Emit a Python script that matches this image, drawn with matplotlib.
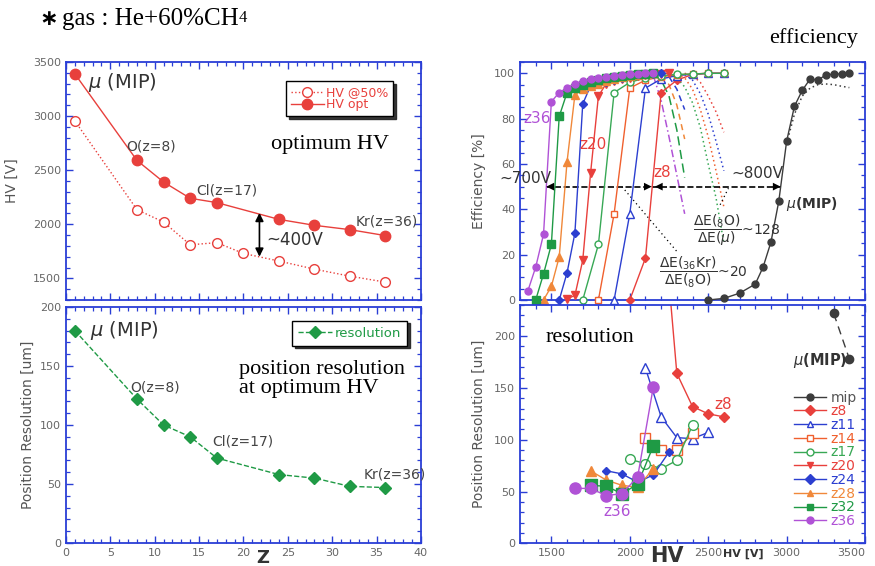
import matplotlib.pyplot as plt
from matplotlib.lines import Line2D
from matplotlib.ticker import MultipleLocator

# ---- left: optimum HV / resolution vs Z
z_opt = [1, 8, 11, 14, 17, 24, 28, 32, 36]
hv_opt = [3390, 2590, 2390, 2240, 2200, 2045, 1990, 1950, 1895]
z_half = [1, 8, 11, 14, 17, 20, 24, 28, 32, 36]
hv_half = [2955, 2135, 2020, 1810, 1830, 1730, 1660, 1585, 1520, 1465]
res_opt = [180, 122, 100, 90, 72, 58, 55, 48, 47]

# ---- right top: efficiency vs HV
hv_mip = [2500, 2600, 2700, 2800, 2850, 2900, 2950, 3000, 3050, 3100, 3150, 3200, 3250, 3300, 3350, 3400]
eff_mip = [0, 0.7, 3, 7, 14.5, 25.5, 43.5, 70, 85.5, 92.5, 97.5, 97, 99.3, 99.6, 99.8, 100]
hv_z8 = [2000, 2100, 2200, 2300, 2400, 2500, 2600]
eff_z8 = [0, 18.5, 91.5, 97, 99.5, 100, 100]
hv_z11 = [1900, 2000, 2100, 2200, 2300, 2400, 2500, 2600]
eff_z11 = [0, 38, 93.5, 97.5, 99, 99.6, 100, 100]
hv_z14 = [1800, 1900, 2000, 2100, 2200, 2300, 2400, 2500, 2600]
eff_z14 = [0, 38, 93.5, 97, 98.5, 99.3, 99.7, 100, 100]
hv_z17 = [1700, 1800, 1900, 2000, 2100, 2200, 2300, 2400, 2500, 2600]
eff_z17 = [0, 24.5, 91.5, 96, 98, 99, 99.5, 99.7, 100, 100]
hv_z20 = [1600, 1650, 1700, 1750, 1800, 1850, 1900, 1950, 2000, 2050, 2100, 2150, 2200, 2250]
eff_z20 = [0.5, 2, 17.5, 56, 90, 95.5, 96.5, 97.3, 98, 98.7, 99.2, 99.5, 99.8, 100]
hv_z24 = [1550, 1600, 1650, 1700, 1750, 1800, 1850, 1900, 1950, 2000, 2050, 2100, 2150, 2200]
eff_z24 = [0, 12, 29.5, 86.5, 94.5, 95.2, 96.2, 97.2, 98, 98.6, 99.1, 99.5, 99.8, 100]
hv_z28 = [1450, 1500, 1550, 1600, 1650, 1700, 1750, 1800, 1850, 1900, 1950, 2000, 2050, 2100, 2150]
eff_z28 = [0, 6, 19, 61, 90.5, 93, 94.5, 95.5, 96.5, 97.5, 98.3, 99, 99.4, 99.7, 100]
hv_z32 = [1400, 1450, 1500, 1550, 1600, 1650, 1700, 1750, 1800, 1850, 1900, 1950, 2000, 2050, 2100, 2150]
eff_z32 = [0, 11.5, 24.5, 81, 91.5, 93.5, 95, 96, 97, 97.8, 98.4, 99, 99.3, 99.6, 99.8, 100]
hv_z36 = [1350, 1400, 1450, 1500, 1550, 1600, 1650, 1700, 1750, 1800, 1850, 1900, 1950, 2000, 2050, 2100, 2150]
eff_z36 = [4, 14.5, 29, 87.5, 91.5, 93.5, 95.5, 96.5, 97.3, 98, 98.5, 99, 99.3, 99.6, 99.8, 100, 100]

# efficiency drop curves (second measurement, no markers)
hv_mip_b = [3000, 3050, 3100, 3150, 3200, 3250, 3300, 3350, 3400]
eff_mip_b = [69, 82, 90, 93.5, 95, 95.3, 95, 94.3, 93.7]
hv_z8_b = [2350, 2400, 2450, 2500, 2550, 2600]
eff_z8_b = [100, 99, 96, 90, 83, 74]
hv_z11_b = [2350, 2400, 2450, 2500, 2550, 2600]
eff_z11_b = [99.5, 97, 91, 82, 70, 57]
hv_z14_b = [2300, 2350, 2400, 2450, 2500, 2550, 2600]
eff_z14_b = [99.5, 98, 93, 84, 72, 57, 41]
hv_z17_b = [2250, 2300, 2350, 2400, 2450, 2500, 2550, 2600]
eff_z17_b = [99.5, 98, 94, 87, 76, 60, 45, 25]
hv_z24_b = [2250, 2300, 2350]
eff_z24_b = [98.5, 93, 84]
hv_z28_b = [2200, 2250, 2300, 2350]
eff_z28_b = [99, 95, 86, 71]
hv_z32_b = [2150, 2200, 2250, 2300, 2350]
eff_z32_b = [99.5, 97, 90, 75, 54]
hv_z36_b = [2150, 2200, 2250, 2300, 2350]
eff_z36_b = [99, 88, 72, 55, 38]

# ---- right bottom: resolution vs HV
rhv_mip = [3300, 3400]
res_mip = [222, 178]
rhv_z8 = [2200, 2300, 2400, 2500, 2600]
res_z8 = [340, 164, 132, 125, 122]
rhv_z11 = [2100, 2200, 2300, 2400, 2500]
res_z11 = [169, 122, 102, 101, 107]
rhv_z14 = [2100, 2200, 2300, 2400]
res_z14 = [102, 90, 90, 106]
rhv_z17 = [2000, 2100, 2200, 2300, 2400]
res_z17 = [81, 77, 72, 80, 114]
rhv_z24 = [1850, 1950, 2050, 2150, 2250]
res_z24 = [70, 67, 59, 66, 88]
rhv_z28 = [1750, 1850, 1950, 2050, 2150]
res_z28 = [70, 61, 56, 54, 72]
rhv_z32 = [1750, 1850, 1950, 2050, 2150]
res_z32 = [56, 55, 48, 57, 94]
rhv_z36 = [1650, 1750, 1850, 1950, 2050, 2150]
res_z36 = [53, 53, 46, 48, 64, 151]

RED = '#e8403c'
BLUE = '#2c3fd0'
ORANGE = '#f0602e'
ORANGE2 = '#f0883a'
GREEN = '#38a855'
GREEN2 = '#1f9a45'
PURPLE = '#b052d6'
GRAY = '#3c3c3c'
SPINE = '#2a3ed6'
TXT = '#444444'
SERIF = ['Liberation Serif', 'DejaVu Serif']

styles = {
    'mip': dict(color=GRAY, marker='o', mfc=GRAY),
    'z8': dict(color=RED, marker='D', mfc=RED),
    'z11': dict(color=BLUE, marker='^', mfc='white'),
    'z14': dict(color=ORANGE, marker='s', mfc='white'),
    'z17': dict(color=GREEN, marker='o', mfc='white'),
    'z20': dict(color=RED, marker='v', mfc=RED),
    'z24': dict(color=BLUE, marker='D', mfc=BLUE),
    'z28': dict(color=ORANGE2, marker='^', mfc=ORANGE2),
    'z32': dict(color=GREEN2, marker='s', mfc=GREEN2),
    'z36': dict(color=PURPLE, marker='o', mfc=PURPLE),
}
eff_size = {'mip': 5, 'z8': 4, 'z11': 5.5, 'z14': 4.5, 'z17': 5, 'z20': 6,
            'z24': 4, 'z28': 6, 'z32': 5.5, 'z36': 5}
res_size = {'mip': 6, 'z8': 5, 'z11': 7, 'z14': 6.5, 'z17': 7, 'z20': 6,
            'z24': 4.5, 'z28': 6.5, 'z32': 8, 'z36': 8}


def style_axes(ax):
    for s in ax.spines.values():
        s.set_color(SPINE)
        s.set_linewidth(1.3)
    ax.tick_params(which='both', direction='in', top=True, right=True,
                   color=SPINE, labelcolor='#666666', labelsize=8)
    ax.tick_params(which='major', length=5, width=1)
    ax.tick_params(which='minor', length=3, width=0.9)


fig = plt.figure(figsize=(8.75, 5.66), dpi=100)
ax1 = fig.add_axes([0.0754, 0.470, 0.4057, 0.4205])
ax2 = fig.add_axes([0.0754, 0.0406, 0.4057, 0.4170])
ax3 = fig.add_axes([0.5943, 0.470, 0.3943, 0.4205])
ax4 = fig.add_axes([0.5943, 0.0401, 0.3943, 0.4210])

# title
fig.text(0.045, 0.966, '\u2217', fontsize=16, fontweight='bold',
         family=['DejaVu Sans'], va='center')
t = fig.text(0.071, 0.966, 'gas : He+60%CH', fontsize=18, family=SERIF, va='center')
ax1.annotate('4', xy=(1, 0.18), xycoords=t, fontsize=12, family=SERIF, va='bottom')

# --- top left: HV
ax1.plot(z_half, hv_half, ls=':', color=RED, lw=1, marker='o', mfc='white', mec=RED,
         ms=7, label='HV @50%')
ax1.plot(z_opt, hv_opt, ls='-', color=RED, lw=1, marker='o', mfc=RED, mec=RED,
         ms=7.5, label='HV opt')
ax1.set_xlim(0, 40)
ax1.set_ylim(1300, 3500)
ax1.xaxis.set_major_locator(MultipleLocator(5))
ax1.xaxis.set_minor_locator(MultipleLocator(1))
ax1.yaxis.set_major_locator(MultipleLocator(500))
ax1.yaxis.set_minor_locator(MultipleLocator(100))
style_axes(ax1)
ax1.tick_params(labelbottom=False)
ax1.set_ylabel('HV [V]', color='#555555', fontsize=10, labelpad=10)
ax1.text(2.5, 3310, r'$\mu$ (MIP)', fontsize=14, color='#333333', va='center')
ax1.text(9.6, 2720, 'O(z=8)', fontsize=10, color=TXT, ha='center', va='center')
ax1.text(18.1, 2308, 'Cl(z=17)', fontsize=10, color=TXT, ha='center', va='center')
ax1.text(36.2, 2024, 'Kr(z=36)', fontsize=10, color=TXT, ha='center', va='center')
ax1.text(23.1, 2734, 'optimum HV', fontsize=16, family=SERIF, va='center')
ax1.annotate('', xy=(21.8, 2105), xytext=(21.8, 1700),
             arrowprops=dict(arrowstyle='<|-|>', color='black', lw=1.2,
                             mutation_scale=12, shrinkA=0, shrinkB=0))
ax1.text(22.6, 1855, '~400V', fontsize=12, color='#333333', va='center')
leg = ax1.legend(loc='upper right', bbox_to_anchor=(0.94, 0.945), fontsize=9,
                 labelcolor=RED, frameon=True, fancybox=False, edgecolor='black',
                 shadow={'color': '#222222', 'alpha': 0.9}, handlelength=2.6,
                 labelspacing=-0.1, borderpad=0.4, handletextpad=0.2)
leg.get_frame().set_linewidth(1.0)

# --- bottom left: resolution vs Z
ax2.plot(z_opt, res_opt, ls='--', color=GREEN2, lw=1, marker='D', mfc=GREEN2,
         mec=GREEN2, ms=6, label='resolution')
ax2.set_xlim(0, 40)
ax2.set_ylim(0, 200)
ax2.xaxis.set_major_locator(MultipleLocator(5))
ax2.xaxis.set_minor_locator(MultipleLocator(1))
ax2.yaxis.set_major_locator(MultipleLocator(50))
ax2.yaxis.set_minor_locator(MultipleLocator(10))
style_axes(ax2)
ax2.set_ylabel('Position Resolution [um]', color='#555555', fontsize=10, labelpad=4)
ax2.text(2.7, 180, r'$\mu$ (MIP)', fontsize=14, color='#333333', va='center')
ax2.text(10.0, 132, 'O(z=8)', fontsize=10, color=TXT, ha='center', va='center')
ax2.text(19.9, 86, 'Cl(z=17)', fontsize=10, color=TXT, ha='center', va='center')
ax2.text(37.0, 58, 'Kr(z=36)', fontsize=10, color=TXT, ha='center', va='center')
ax2.text(19.5, 139, 'position resolution\nat optimum HV', fontsize=16, family=SERIF,
         va='center', linespacing=1.05)
leg2 = ax2.legend(loc='upper right', bbox_to_anchor=(0.98, 0.97), fontsize=9.5,
                  labelcolor=GREEN2, frameon=True, fancybox=False, edgecolor='black',
                  shadow={'color': '#222222', 'alpha': 0.9}, handlelength=2.6,
                  borderpad=0.45, handletextpad=0.2)
leg2.get_frame().set_linewidth(1.0)
fig.text(0.3006, 0.0135, 'Z', fontsize=13, fontweight='bold', color='#333333',
         ha='center', va='center')

# --- top right: efficiency
eff_series = [('mip', hv_mip, eff_mip), ('z8', hv_z8, eff_z8), ('z11', hv_z11, eff_z11),
              ('z14', hv_z14, eff_z14), ('z17', hv_z17, eff_z17), ('z20', hv_z20, eff_z20),
              ('z24', hv_z24, eff_z24), ('z28', hv_z28, eff_z28), ('z32', hv_z32, eff_z32),
              ('z36', hv_z36, eff_z36)]
drop_series = [('mip', hv_mip_b, eff_mip_b, (0, (1, 2))), ('z8', hv_z8_b, eff_z8_b, (0, (1, 2))),
               ('z11', hv_z11_b, eff_z11_b, (0, (1, 2))), ('z14', hv_z14_b, eff_z14_b, (0, (1, 2))),
               ('z17', hv_z17_b, eff_z17_b, (0, (1, 2))), ('z24', hv_z24_b, eff_z24_b, (0, (4, 3))),
               ('z28', hv_z28_b, eff_z28_b, (0, (4, 3))), ('z32', hv_z32_b, eff_z32_b, (0, (6, 3))),
               ('z36', hv_z36_b, eff_z36_b, (0, (5, 2, 1, 2)))]
for name, xs, ys, ls in drop_series:
    ax3.plot(xs, ys, ls=ls, color=styles[name]['color'], lw=1.1)
for name, xs, ys in eff_series:
    st = styles[name]
    ax3.plot(xs, ys, ls='-', lw=1, color=st['color'], marker=st['marker'],
             mfc=st['mfc'], mec=st['color'], ms=eff_size[name], clip_on=False, zorder=3)
ax3.set_xlim(1300, 3500)
ax3.set_ylim(0, 105)
ax3.xaxis.set_major_locator(MultipleLocator(500))
ax3.xaxis.set_minor_locator(MultipleLocator(100))
ax3.yaxis.set_major_locator(MultipleLocator(20))
ax3.yaxis.set_minor_locator(MultipleLocator(5))
style_axes(ax3)
ax3.tick_params(labelbottom=False)
ax3.set_ylabel('Efficiency [%]', color='#555555', fontsize=10, labelpad=6)
fig.text(0.930, 0.932, 'efficiency', fontsize=16, family=SERIF, ha='center', va='center')

ax3.plot([1468, 2962], [50, 50], ls='--', color='black', lw=1.2)
for x0, x1 in [(1468, 2140), (2160, 2962)]:
    ax3.annotate('', xy=(x0, 50), xytext=(x1, 50),
                 arrowprops=dict(arrowstyle='<|-|>', color='black', lw=0, ls='-',
                                 mutation_scale=14, shrinkA=0, shrinkB=0))
ax3.text(1334, 53.5, '~700V', fontsize=11, color='#333333', ha='center', va='center')
ax3.text(2815, 56, '~800V', fontsize=11, color='#333333', ha='center', va='center')
ax3.text(1409, 80, 'z36', fontsize=11, color=PURPLE, ha='center', va='center')
ax3.text(1764, 68.7, 'z20', fontsize=11, color=RED, ha='center', va='center')
ax3.text(2207, 56.2, 'z8', fontsize=11, color=RED, ha='center', va='center')
ax3.text(2995, 42.3, r'$\mu$(MIP)', fontsize=10, color='#333333', fontweight='bold', va='center')
ax3.plot([1950, 2310], [50, 20.6], ls=(0, (1, 2.5)), color='black', lw=0.9)
ax3.plot([2576, 2629], [42, 49.3], ls=(0, (1, 2.5)), color='black', lw=0.9)
ax3.text(2405, 31, r'$\dfrac{\Delta\mathrm{E}({}_{8}\mathrm{O})}{\Delta\mathrm{E}(\mu)}$~128',
         fontsize=10, color='#333333', va='center')
ax3.text(2184, 12.3, r'$\dfrac{\Delta\mathrm{E}({}_{36}\mathrm{Kr})}{\Delta\mathrm{E}({}_{8}\mathrm{O})}$~20',
         fontsize=10, color='#333333', va='center')

# --- bottom right: resolution vs HV
res_series = [('mip', rhv_mip, res_mip), ('z8', rhv_z8, res_z8), ('z11', rhv_z11, res_z11),
              ('z14', rhv_z14, res_z14), ('z17', rhv_z17, res_z17), ('z24', rhv_z24, res_z24),
              ('z28', rhv_z28, res_z28), ('z32', rhv_z32, res_z32), ('z36', rhv_z36, res_z36)]
for name, xs, ys in res_series:
    st = styles[name]
    ls = (0, (6, 4)) if name == 'mip' else '-'
    ax4.plot(xs, ys, ls=ls, lw=1, color=st['color'], marker=st['marker'],
             mfc=st['mfc'], mec=st['color'], ms=res_size[name])
ax4.set_xlim(1300, 3500)
ax4.set_ylim(0, 230)
ax4.xaxis.set_major_locator(MultipleLocator(500))
ax4.xaxis.set_minor_locator(MultipleLocator(100))
ax4.yaxis.set_major_locator(MultipleLocator(50))
ax4.yaxis.set_minor_locator(MultipleLocator(10))
style_axes(ax4)
ax4.set_ylabel('Position Resolution [um]', color='#555555', fontsize=10, labelpad=6)
ax4.text(1462, 199, 'resolution', fontsize=16, family=SERIF, va='center')
ax4.text(3043, 176.5, r'$\mu$(MIP)', fontsize=10.5, color='#333333', fontweight='bold', va='center')
ax4.text(2598, 134, 'z8', fontsize=11, color=RED, ha='center', va='center')
ax4.text(1918, 30.5, 'z36', fontsize=11, color=PURPLE, ha='center', va='center')
fig.text(0.7623, 0.0185, 'HV', fontsize=15, fontweight='bold', color='#333333',
         ha='center', va='center')
fig.text(0.850, 0.021, 'HV [V]', fontsize=8, fontweight='bold', color='#333333',
         ha='center', va='center')

handles = []
for name in ['mip', 'z8', 'z11', 'z14', 'z17', 'z20', 'z24', 'z28', 'z32', 'z36']:
    st = styles[name]
    handles.append(Line2D([], [], color=st['color'], lw=1, marker=st['marker'],
                          mfc=st['mfc'], mec=st['color'], ms=5, label=name))
leg4 = ax4.legend(handles=handles, loc='upper left', bbox_to_anchor=(0.775, 0.67),
                  frameon=False, fontsize=10, labelcolor='linecolor',
                  handlelength=2.3, handletextpad=0.3, labelspacing=-0.02, borderpad=0)
leg4.get_texts()[0].set_color('#555555')

# keep the last tick label inside the canvas
fig.canvas.draw()
for lab in ax4.get_xticklabels():
    if lab.get_text() == '3500':
        lab.set_ha('right')

fig.savefig('out.png', dpi=100)
